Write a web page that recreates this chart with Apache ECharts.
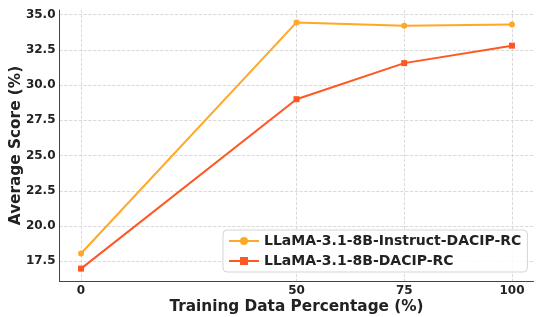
<!DOCTYPE html>
<html><head><meta charset="utf-8">
<script src="https://cdn.jsdelivr.net/npm/echarts@6/dist/echarts.min.js"></script>
<style>html,body{margin:0;padding:0;background:#fff}#c{width:539px;height:317px}</style>
</head><body><div id="c"></div>
<script>
const xValues = [0, 50, 75, 100];
const xTicks = [0, 50, 75, 100];
const yTicks = [17.5, 20.0, 22.5, 25.0, 27.5, 30.0, 32.5, 35.0];
const instructName = 'LLaMA-3.1-8B-Instruct-DACIP-RC';
const instructScores = [18.05, 34.45, 34.22, 34.3];
const baseName = 'LLaMA-3.1-8B-DACIP-RC';
const baseScores = [16.98, 29.0, 31.56, 32.8];

const chart = echarts.init(document.getElementById('c'), null, {renderer: 'canvas'});
const font = 'DejaVu Sans';
const grid = {type: 'dashed', color: '#d0d0d0', width: 0.8};
chart.setOption({
  animation: false,
  backgroundColor: '#fff',
  grid: {left: 59.5, right: 5.5, top: 10, bottom: 36, outerBoundsMode: 'none', containLabel: false},
  legend: {
    left: 223, top: 230, orient: 'vertical',
    padding: [4, 6, 4, 5], itemGap: 6, itemWidth: 30, itemHeight: 10,
    backgroundColor: 'rgba(255,255,255,0.85)', borderColor: '#d5d5d5', borderWidth: 1, borderRadius: 4,
    textStyle: {fontFamily: font, fontWeight: 'bold', fontSize: 14, color: '#222'},
    data: [instructName, baseName]
  },
  xAxis: {
    type: 'value', min: -5, max: 105,
    name: 'Training Data Percentage (%)', nameLocation: 'middle', nameGap: 18.5, nameMoveOverlap: false,
    nameTextStyle: {fontFamily: font, fontWeight: 'bold', fontSize: 15.3, color: '#222'},
    axisLine: {show: true, onZero: false, lineStyle: {color: '#444', width: 1}},
    axisTick: {show: false, customValues: xTicks},
    axisLabel: {customValues: xTicks, fontFamily: font, fontWeight: 'bold', fontSize: 12, color: '#222', margin: 4},
    splitLine: {show: true, lineStyle: grid}
  },
  yAxis: {
    type: 'value', min: 16.1, max: 35.33,
    name: 'Average Score (%)', nameLocation: 'middle', nameGap: 36, nameMoveOverlap: false,
    nameTextStyle: {fontFamily: font, fontWeight: 'bold', fontSize: 15.3, color: '#222'},
    axisLine: {show: true, onZero: false, lineStyle: {color: '#444', width: 1}},
    axisTick: {show: false, customValues: yTicks},
    axisLabel: {customValues: yTicks, formatter: v => v.toFixed(1), fontFamily: font, fontWeight: 'bold', fontSize: 12, color: '#222', margin: 4},
    splitLine: {show: true, lineStyle: grid}
  },
  series: [
    {name: instructName, type: 'line', data: xValues.map((x, i) => [x, instructScores[i]]),
     symbol: 'circle', symbolSize: 6, color: '#FFA726', lineStyle: {width: 2}, z: 3},
    {name: baseName, type: 'line', data: xValues.map((x, i) => [x, baseScores[i]]),
     symbol: 'rect', symbolSize: 6, color: '#FF5722', lineStyle: {width: 2}, z: 4}
  ]
});
</script></body></html>
